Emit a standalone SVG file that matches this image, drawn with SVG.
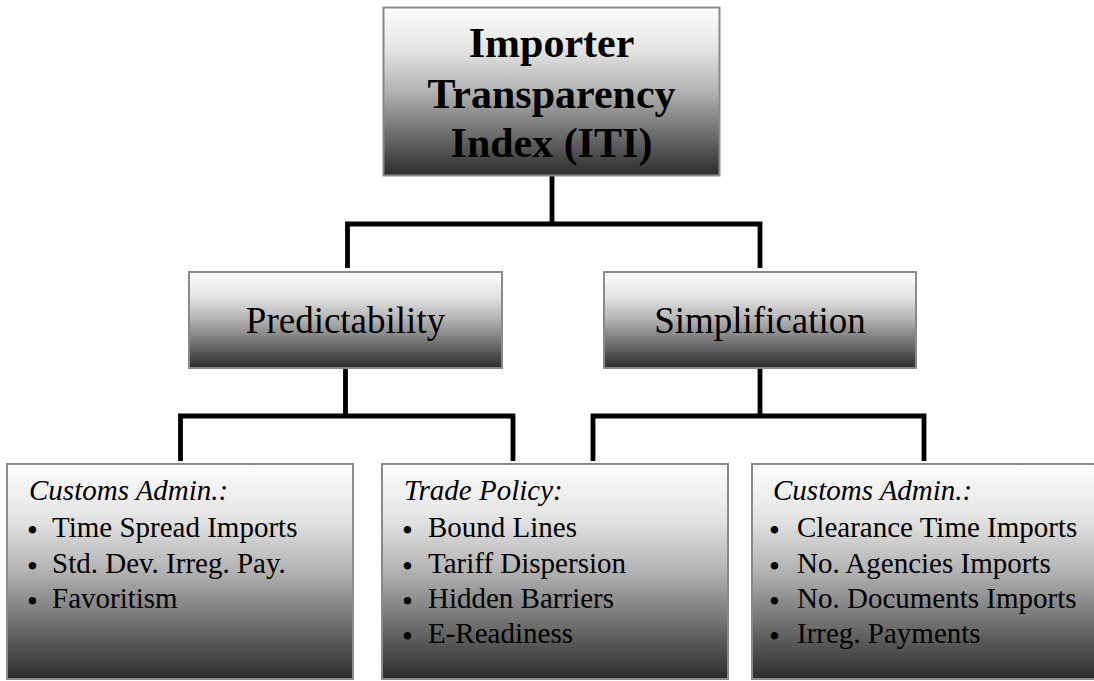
<svg xmlns="http://www.w3.org/2000/svg" width="1094" height="681" viewBox="0 0 1094 681">
<style>
.box{fill:url(#g);stroke:#8a8a8a;stroke-width:2}
.t{font-family:"Liberation Serif","Times New Roman",serif;fill:#000}
.top{font-size:42px;font-weight:bold;text-anchor:middle}
.mid{font-size:37px;text-anchor:middle}
.lst{font-size:29px}
.hd{font-style:italic}
.b{font-size:31px}
.conn{fill:none;stroke:#000;stroke-width:4.8;stroke-linejoin:miter;stroke-linecap:butt}
</style>
<defs>
<linearGradient id="g" x1="0" y1="0" x2="0" y2="1">
<stop offset="0" stop-color="#fdfdfd"/>
<stop offset="0.25" stop-color="#e4e4e4"/>
<stop offset="0.5" stop-color="#b2b2b2"/>
<stop offset="0.75" stop-color="#6e6e6e"/>
<stop offset="1" stop-color="#2c2c2c"/>
</linearGradient>
</defs>
<rect width="1094" height="681" fill="#fff"/>
<g id="connectors">
<path class="conn" d="M552,176 V224 M347.5,268 V224 H760 V268"/>
<path class="conn" d="M345.5,368 V416 M180.5,461 V416 H513 V461"/>
<path class="conn" d="M760,368 V416 M593,461 V416 H924 V461"/>
</g>
<g id="iti">
<rect class="box" x="383.5" y="7.5" width="336" height="168"/>
<text class="t top" x="551.5" y="57">Importer</text>
<text class="t top" x="551.5" y="108">Transparency</text>
<text class="t top" x="551.5" y="157">Index (ITI)</text>
</g>
<g id="predictability">
<rect class="box" x="189" y="272" width="313" height="96"/>
<text class="t mid" x="345.5" y="333">Predictability</text>
</g>
<g id="simplification">
<rect class="box" x="604" y="272" width="312" height="96"/>
<text class="t mid" x="760" y="333">Simplification</text>
</g>
<g id="customs-left">
<rect class="box" x="7" y="464" width="346" height="215"/>
<text class="t lst hd" x="29" y="500">Customs Admin.:</text>
<text class="t lst"><tspan class="b" x="27" y="541">•</tspan><tspan x="52" y="537">Time Spread Imports</tspan></text>
<text class="t lst"><tspan class="b" x="27" y="577">•</tspan><tspan x="52" y="573">Std. Dev. Irreg. Pay.</tspan></text>
<text class="t lst"><tspan class="b" x="27" y="612">•</tspan><tspan x="52" y="608">Favoritism</tspan></text>
</g>
<g id="trade-policy">
<rect class="box" x="382" y="464" width="346" height="215"/>
<text class="t lst hd" x="404" y="500">Trade Policy:</text>
<text class="t lst"><tspan class="b" x="402" y="541">•</tspan><tspan x="428" y="537">Bound Lines</tspan></text>
<text class="t lst"><tspan class="b" x="402" y="577">•</tspan><tspan x="428" y="573">Tariff Dispersion</tspan></text>
<text class="t lst"><tspan class="b" x="402" y="612">•</tspan><tspan x="428" y="608">Hidden Barriers</tspan></text>
<text class="t lst"><tspan class="b" x="402" y="647">•</tspan><tspan x="428" y="643">E-Readiness</tspan></text>
</g>
<g id="customs-right">
<rect class="box" x="752" y="464" width="350" height="215"/>
<text class="t lst hd" x="773" y="500">Customs Admin.:</text>
<text class="t lst"><tspan class="b" x="769" y="541">•</tspan><tspan x="797" y="537">Clearance Time Imports</tspan></text>
<text class="t lst"><tspan class="b" x="769" y="577">•</tspan><tspan x="797" y="573">No. Agencies Imports</tspan></text>
<text class="t lst"><tspan class="b" x="769" y="612">•</tspan><tspan x="797" y="608">No. Documents Imports</tspan></text>
<text class="t lst"><tspan class="b" x="769" y="647">•</tspan><tspan x="797" y="643">Irreg. Payments</tspan></text>
</g>
</svg>
